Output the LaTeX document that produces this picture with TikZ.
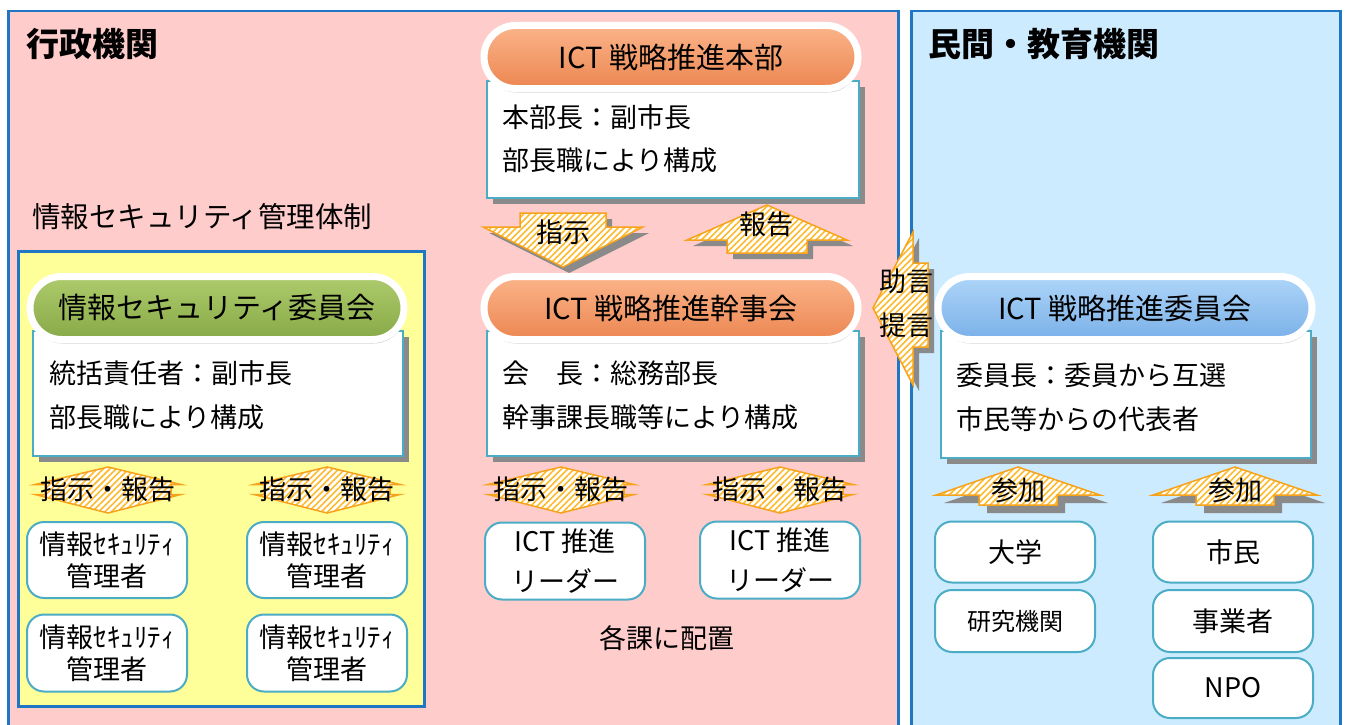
\documentclass[tikz,border=0pt]{standalone}
\usepackage{fontspec}
\setmainfont{Noto Sans CJK JP}
\usetikzlibrary{shapes.misc,shadows,patterns.meta}
\definecolor{pinkbg}{HTML}{FFCCCC}
\definecolor{bluebg}{HTML}{CCEBFF}
\definecolor{yellowbg}{HTML}{FFFF99}
\definecolor{panelborder}{HTML}{1F77C4}
\definecolor{tealline}{HTML}{4BACC6}
\definecolor{arrline}{HTML}{F7A21B}
\definecolor{stripe}{HTML}{FDBA2C}
\definecolor{orgtop}{HTML}{FBB48A}
\definecolor{orgbot}{HTML}{EC8651}
\definecolor{grntop}{HTML}{ADCB6C}
\definecolor{grnbot}{HTML}{88A947}
\definecolor{blutop}{HTML}{AED5F8}
\definecolor{blubot}{HTML}{7AB0E8}
\definecolor{shadowgray}{HTML}{8A8A8A}
\tikzset{
  every node/.style={font=\fontsize{27}{31}\selectfont, inner sep=0pt},
  panel/.style={rectangle, draw=panelborder, line width=2.5pt, anchor=north west},
  pill/.style={rounded rectangle, minimum width=374pt, minimum height=63pt, draw=white, line width=7pt,
    drop shadow={shadow xshift=1pt, shadow yshift=-4pt, opacity=0.35}, font=\fontsize{29}{33}\selectfont},
  bodybox/.style={rectangle, fill=white, draw=tealline, line width=2pt,
    general shadow={fill=shadowgray, shadow xshift=6pt, shadow yshift=-6pt}, anchor=north west},
  smallbox/.style={rectangle, rounded corners=17pt, fill=white, draw=tealline, line width=2pt,
    minimum width=160pt, align=center},
  arrowshape/.style={draw=arrline, line width=1.5pt, preaction={fill=white},
    pattern={Lines[angle=45,distance=4.5pt,line width=1.6pt]}, pattern color=stripe},
  arrowshadow/.style={fill=shadowgray},
  bodytext/.style={anchor=west},
}
\def\downpoly{(-43,-14) -- (43,-14) -- (43,0) -- (80,0) -- (0,40) -- (-80,0) -- (-43,0) -- cycle}
\def\uppoly{(0,-35) -- (80,0) -- (40,0) -- (40,13) -- (-40,13) -- (-40,0) -- (-80,0) -- cycle}
\def\joinpoly{(0,-28) -- (82,0) -- (39,0) -- (39,10) -- (-39,10) -- (-39,0) -- (-82,0) -- cycle}
\def\leftpoly{(-40,0) -- (0,-76) -- (0,-45) -- (15,-45) -- (15,39) -- (0,39) -- (0,77) -- cycle}
\def\dualpoly{(0,-22.5) -- (73,-5) -- (63,-5) -- (63,5) -- (73,5) -- (0,23.5) -- (-73,5) -- (-63,5) -- (-63,-5) -- (-73,-5) -- cycle}
\begin{document}
\begin{tikzpicture}[x=1pt,y=-1pt]
\useasboundingbox (0,0) rectangle (1346,725);
\clip (0,0) rectangle (1346,725);
\fill[white] (0,0) rectangle (1346,725);

% panels
\node[panel, fill=pinkbg, minimum width=890pt, minimum height=740pt] (admin) at (7,10) {};
\node[panel, fill=bluebg, minimum width=429pt, minimum height=740pt] (civil) at (910,10) {};
\node[anchor=west, font=\fontsize{33}{36}\selectfont\bfseries] (adminT) at (26,44) {行政機関};
\node[anchor=west, font=\fontsize{33}{36}\selectfont\bfseries] (civilT) at (928,44) {民間・教育機関};

\node[anchor=west, font=\fontsize{28.5}{32}\selectfont] (secT) at (32,217) {情報セキュリティ管理体制};
\node[panel, fill=yellowbg, minimum width=406pt, minimum height=455pt] (secbox) at (17,250) {};

% top card
\node[bodybox, minimum width=372pt, minimum height=117pt] (hqB) at (486,80) {};
\node[pill, top color=orgtop, bottom color=orgbot] (hq) at (671,57) {ICT 戦略推進本部};
\node[bodytext] (hq1) at (502,117) {本部長：副市長};
\node[bodytext] (hq2) at (502,160) {部長職により構成};

% middle card
\node[bodybox, minimum width=372pt, minimum height=125pt] (exB) at (486,330) {};
\node[pill, top color=orgtop, bottom color=orgbot] (ex) at (671,308) {ICT 戦略推進幹事会};
\node[bodytext] (ex1) at (502,373) {会　長：総務部長};
\node[bodytext] (ex2) at (502,417) {幹事課長職等により構成};

% left card
\node[bodybox, minimum width=370pt, minimum height=125pt] (scB) at (32,330) {};
\node[pill, top color=grntop, bottom color=grnbot] (sc) at (217,308) {情報セキュリティ委員会};
\node[bodytext] (sc1) at (49,373) {統括責任者：副市長};
\node[bodytext] (sc2) at (49,417) {部長職により構成};

% right card
\node[bodybox, minimum width=370pt, minimum height=127pt] (cmB) at (940,330) {};
\node[pill, top color=blutop, bottom color=blubot] (cm) at (1125,308) {ICT 戦略推進委員会};
\node[bodytext] (cm1) at (956,375) {委員長：委員から互選};
\node[bodytext] (cm2) at (956,419) {市民等からの代表者};

% arrows between hq and ex
\coordinate (aDown) at (563,227);
\coordinate (aUp) at (767,240);
\fill[arrowshadow, shift={(aDown)}, shift={(6,6)}] \downpoly;
\draw[arrowshape, shift={(aDown)}] \downpoly;
\fill[arrowshadow, shift={(aUp)}, shift={(6,6)}] \uppoly;
\draw[arrowshape, shift={(aUp)}] \uppoly;
\node (lDown) at (563,232) {指示};
\node (lUp) at (766,224) {報告};

% advice arrow
\coordinate (aLeft) at (913,308);
\fill[arrowshadow, shift={(aLeft)}, shift={(6,6)}] \leftpoly;
\draw[arrowshape, shift={(aLeft)}] \leftpoly;
\node (lAdv1) at (906,281) {助言};
\node (lAdv2) at (906,325) {提言};

% dual arrows
\foreach \cx/\nm in {108/d1, 327/d2, 561/d3, 780/d4}{
  \coordinate (\nm) at (\cx,489.5);
  \draw[arrowshape, shift={(\nm)}] \dualpoly;
  \node (\nm T) at (\nm) {指示・報告};
}

% join arrows
\foreach \cx/\nm in {1018/j1, 1235/j2}{
  \coordinate (\nm) at (\cx,495);
  \fill[arrowshadow, shift={(\nm)}, shift={(8,8)}] \joinpoly;
  \draw[arrowshape, shift={(\nm)}] \joinpoly;
  \node (\nm T) at (\cx,490) {参加};
}

% small boxes left
\node[smallbox, minimum height=76pt, font=\fontsize{27}{32}\selectfont] (m1) at (107,560) {情報ｾｷｭﾘﾃｨ\\管理者};
\node[smallbox, minimum height=76pt, font=\fontsize{27}{32}\selectfont] (m2) at (327,560) {情報ｾｷｭﾘﾃｨ\\管理者};
\node[smallbox, minimum height=77pt, font=\fontsize{27}{32}\selectfont] (m3) at (107,653) {情報ｾｷｭﾘﾃｨ\\管理者};
\node[smallbox, minimum height=77pt, font=\fontsize{27}{32}\selectfont] (m4) at (327,653) {情報ｾｷｭﾘﾃｨ\\管理者};

% small boxes middle
\node[smallbox, minimum height=77pt, font=\fontsize{27}{40}\selectfont] (r1) at (565,561) {ICT 推進\\リーダー};
\node[smallbox, minimum height=77pt, font=\fontsize{27}{40}\selectfont] (r2) at (780,560) {ICT 推進\\リーダー};
\node (place) at (667,638) {各課に配置};

% small boxes right
\node[smallbox, minimum height=61pt] (u1) at (1015,552) {大学};
\node[smallbox, minimum height=62pt, font=\fontsize{24}{28}\selectfont] (u2) at (1015,621) {研究機関};
\node[smallbox, minimum height=61pt] (c1) at (1233,552) {市民};
\node[smallbox, minimum height=62pt] (c2) at (1233,621) {事業者};
\node[smallbox, minimum height=60pt] (c3) at (1233,688) {NPO};
\end{tikzpicture}
\end{document}
